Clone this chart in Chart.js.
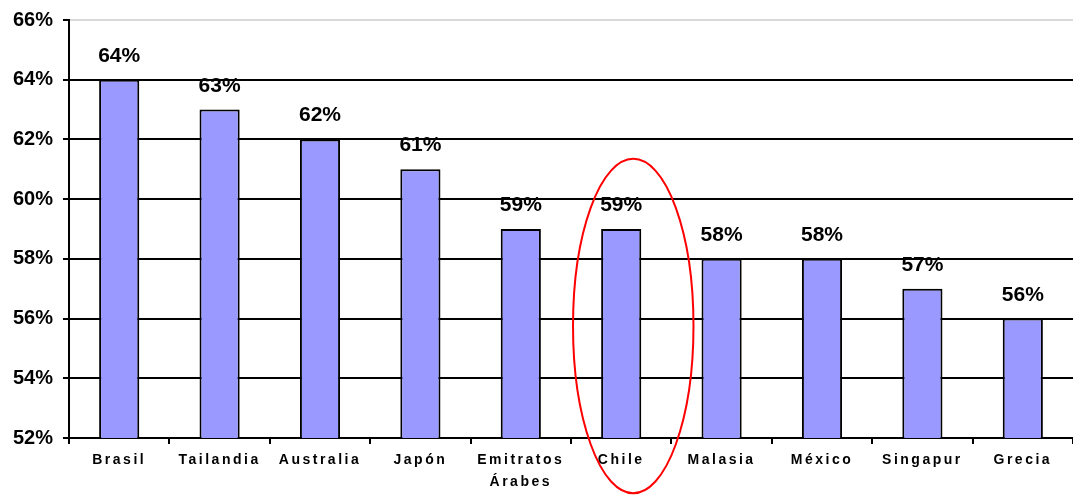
<!DOCTYPE html>
<html>
<head>
<meta charset="utf-8">
<script src="https://cdn.jsdelivr.net/npm/chart.js@4/dist/chart.umd.min.js"></script>
<style>
  html, body { margin: 0; padding: 0; background: #fff; }
  #wrap { width: 1073px; height: 495px; position: relative; }
</style>
</head>
<body>
<div id="wrap"><canvas id="c" width="1073" height="495"></canvas></div>
<script>
const categories = ['Brasil', 'Tailandia', 'Australia', 'Japón', ['Emitratos', 'Árabes'], 'Chile', 'Malasia', 'México', 'Singapur', 'Grecia'];
const values = [64, 63, 62, 61, 59, 59, 58, 58, 57, 56];
const yTicks = [52, 54, 56, 58, 60, 62, 64, 66];
const highlightIndex = 5;

const FONT = "'Liberation Sans', Arial, sans-serif";

const letterSpacingPatch = {
  id: 'letterSpacingPatch',
  beforeDraw(chart) {
    const xs = chart.scales.x;
    if (!xs._patched) {
      const orig = xs.drawLabels;
      xs.drawLabels = function (area) {
        const ctx = this.ctx;
        ctx.save();
        ctx.letterSpacing = '2.5px';
        orig.call(this, area);
        ctx.restore();
      };
      xs._patched = true;
    }
  }
};

const valueLabels = {
  id: 'valueLabels',
  afterDatasetsDraw(chart) {
    const ctx = chart.ctx;
    const meta = chart.getDatasetMeta(0);
    ctx.save();
    ctx.font = "bold 21px " + FONT;
    ctx.fillStyle = '#000';
    ctx.textAlign = 'center';
    ctx.textBaseline = 'alphabetic';
    meta.data.forEach((bar, i) => {
      ctx.fillText(values[i] + '%', bar.x, bar.y - 18);
    });
    ctx.restore();
  }
};

const highlight = {
  id: 'highlight',
  afterDraw(chart) {
    const xs = chart.scales.x, ys = chart.scales.y;
    const cw = xs.getPixelForValue(1) - xs.getPixelForValue(0);
    const cx = xs.getPixelForValue(highlightIndex) + 0.12 * cw;
    const cy = ys.getPixelForValue(55.75);
    const rx = 0.6 * cw;
    const ry = ys.getPixelForValue(52) - ys.getPixelForValue(57.6);
    const ctx = chart.ctx;
    ctx.save();
    ctx.beginPath();
    ctx.ellipse(cx, cy, rx, ry, 0, 0, Math.PI * 2);
    ctx.strokeStyle = '#ff0000';
    ctx.lineWidth = 2;
    ctx.stroke();
    ctx.restore();
  }
};

new Chart(document.getElementById('c'), {
  type: 'bar',
  data: {
    labels: categories,
    datasets: [{
      data: values,
      backgroundColor: '#9999ff',
      borderColor: '#000',
      borderWidth: 2,
      borderSkipped: 'bottom',
      barPercentage: 0.4,
      categoryPercentage: 1
    }]
  },
  options: {
    responsive: false,
    animation: false,
    events: [],
    layout: { padding: { top: 20, right: -4, left: 0, bottom: 0 } },
    plugins: { legend: { display: false }, tooltip: { enabled: false } },
    scales: {
      x: {
        offset: true,
        grid: { offset: true, drawOnChartArea: false, drawTicks: true, tickLength: 6, tickColor: '#000', lineWidth: 2 },
        border: { display: true, color: '#000', width: 2 },
        ticks: {
          color: '#000',
          font: { family: FONT, size: 14, weight: 'bold', lineHeight: 1.6 },
          padding: 5,
          maxRotation: 0,
          autoSkip: false
        },
        afterFit(scale) { scale.height = 57; }
      },
      y: {
        min: 52,
        max: 66,
        afterBuildTicks(scale) { scale.ticks = yTicks.map(v => ({ value: v })); },
        grid: {
          color: (c) => (c.tick && c.tick.value === 66) ? '#d9d9d9' : '#000',
          lineWidth: 2,
          drawTicks: true,
          tickLength: 6,
          tickColor: '#000'
        },
        border: { display: true, color: '#000', width: 2 },
        ticks: {
          color: '#000',
          font: { family: FONT, size: 20, weight: 'bold', lineHeight: 1 },
          padding: 10,
          callback: (v) => v + '%'
        },
        afterFit(scale) { scale.width = 69; }
      }
    }
  },
  plugins: [letterSpacingPatch, valueLabels, highlight]
});
</script>
</body>
</html>
